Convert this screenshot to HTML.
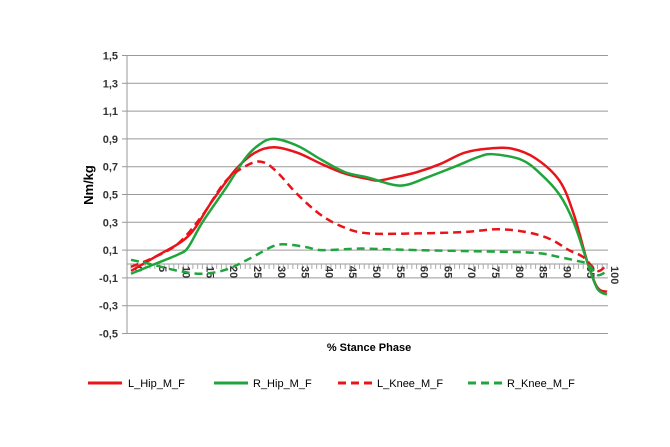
<!DOCTYPE html><html><head><style>body{margin:0;background:#fff}svg{display:block}text{font-family:"Liberation Sans",sans-serif}</style></head><body>
<svg id="s" width="670" height="447" xmlns="http://www.w3.org/2000/svg">
<g id="grid"></g>
<text x="93" y="185" font-size="13" font-weight="bold" transform="rotate(-90 93 185)" text-anchor="middle" fill="#000">Nm/kg</text>
<text x="369" y="351" font-size="11" font-weight="bold" text-anchor="middle">% Stance Phase</text>
<g id="series"></g>
<g font-size="11">
<line x1="88" y1="383" x2="122" y2="383" stroke="#e8141a" stroke-width="3"/><text x="128" y="387">L_Hip_M_F</text>
<line x1="214" y1="383" x2="248" y2="383" stroke="#1fa53c" stroke-width="3"/><text x="253" y="387">R_Hip_M_F</text>
<line x1="338" y1="383" x2="372" y2="383" stroke="#e8141a" stroke-width="3" stroke-dasharray="8,5"/><text x="377" y="387">L_Knee_M_F</text>
<line x1="468" y1="383" x2="502" y2="383" stroke="#1fa53c" stroke-width="3" stroke-dasharray="8,5"/><text x="507" y="387">R_Knee_M_F</text>
</g>
</svg>
<script>
const NS="http://www.w3.org/2000/svg";
const X=p=>131+4.76*p, Y=v=>55.5+(1.5-v)*139;
let g=document.getElementById('grid'),h='';
for(let i=0;i<=10;i++){let v=1.5-0.2*i,y=Y(v);
h+=`<line x1="127" y1="${y}" x2="608" y2="${y}" stroke="#999" stroke-width="1"/><line x1="122" y1="${y}" x2="127" y2="${y}" stroke="#999"/>`;
h+=`<text x="118" y="${y+4}" font-size="11" font-weight="bold" fill="#333" text-anchor="end">${v.toFixed(1).replace('.',',')}</text>`;}
h+=`<line x1="127" y1="${Y(1.5)}" x2="127" y2="${Y(-0.5)}" stroke="#999"/>`;
let y0=Y(0);h+=`<line x1="127" y1="${y0}" x2="608" y2="${y0}" stroke="#999"/>`;
for(let p=0;p<=100;p++){h+=`<line x1="${X(p)}" y1="${y0}" x2="${X(p)}" y2="${y0+5}" stroke="#aaa"/>`;}
for(let p=0;p<=100;p+=5){h+=`<text transform="translate(${X(p)+4},${y0+2}) rotate(90)" font-size="11" font-weight="bold" fill="#333">${p}</text>`;}
g.innerHTML=h;
function path(pts){let P=pts.map(a=>[X(a[0]),Y(a[1])]),d=`M${P[0][0]},${P[0][1]}`;
for(let i=0;i<P.length-1;i++){let p0=P[Math.max(0,i-1)],p1=P[i],p2=P[i+1],p3=P[Math.min(P.length-1,i+2)];
d+=`C${p1[0]+(p2[0]-p0[0])/6},${p1[1]+(p2[1]-p0[1])/6} ${p2[0]-(p3[0]-p1[0])/6},${p2[1]-(p3[1]-p1[1])/6} ${p2[0]},${p2[1]}`;}return d;}
const S=[
[[[0,-0.05],[5,0.05],[12,0.2],[17,0.45],[22,0.68],[26,0.8],[30,0.84],[35,0.8],[40,0.72],[45,0.65],[50,0.61],[52,0.6],[55,0.62],[60,0.66],[65,0.72],[70,0.8],[75,0.83],[80,0.83],[85,0.76],[90,0.6],[93,0.36],[96,0.0],[98,-0.17],[100,-0.2]],"#e8141a",""],
[[[0,-0.07],[5,0],[10,0.07],[12,0.12],[15,0.3],[20,0.55],[24,0.76],[27,0.86],[30,0.9],[35,0.85],[40,0.75],[45,0.66],[50,0.62],[55,0.57],[58,0.57],[62,0.62],[68,0.7],[73,0.77],[76,0.79],[82,0.75],[86,0.65],[90,0.5],[93,0.3],[96,0],[98,-0.18],[100,-0.22]],"#1fa53c",""],
[[[0,-0.02],[5,0.05],[10,0.15],[15,0.35],[20,0.6],[25,0.72],[28,0.73],[31,0.65],[35,0.5],[40,0.35],[45,0.26],[50,0.22],[60,0.22],[70,0.23],[77,0.25],[83,0.23],[88,0.18],[92,0.1],[95,0.05],[98,-0.05],[100,0]],"#e8141a","8,5"],
[[[0,0.03],[4,0],[10,-0.05],[15,-0.07],[20,-0.04],[25,0.04],[30,0.13],[33,0.14],[37,0.12],[40,0.1],[47,0.11],[50,0.11],[60,0.1],[75,0.09],[85,0.08],[90,0.05],[94,0.02],[96,0],[98,-0.08],[100,-0.05]],"#1fa53c","8,5"]];
let sg=document.getElementById('series');
S.forEach(([pts,c,da])=>{let e=document.createElementNS(NS,'path');e.setAttribute('d',path(pts));e.setAttribute('fill','none');e.setAttribute('stroke',c);e.setAttribute('stroke-width','2.5');if(da)e.setAttribute('stroke-dasharray',da);sg.appendChild(e);});
</script>
</body></html>
